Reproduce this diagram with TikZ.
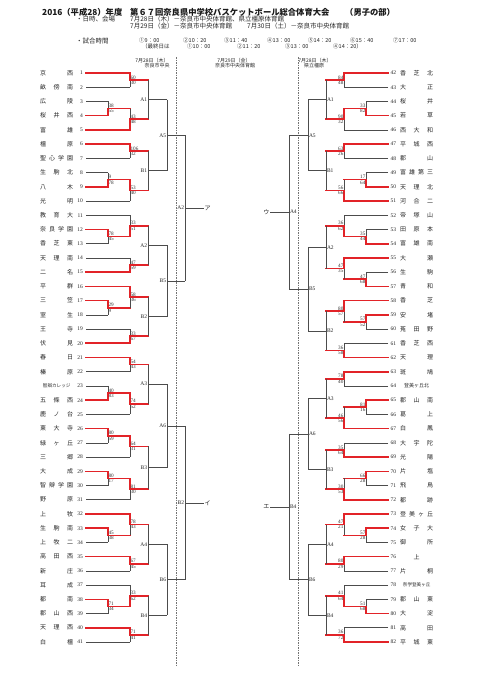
\documentclass[tikz,border=0pt]{standalone}
\usepackage{fontspec}
\setmainfont{Liberation Serif}
\newfontfamily\cjk{Noto Sans CJK JP}
\usetikzlibrary{calc}
\definecolor{bred}{RGB}{226,35,40}
\newif\ifleftside
\tikzset{
 lng/.style={draw=black!70, line width=0.65pt},
 lnr/.style={draw=bred, line width=1.6pt, line cap=rect},
 sc/.style={font=\fontsize{5.2}{5.5}\selectfont, inner sep=0.4pt, text=black!80},
 lab/.style={font=\fontsize{5.5}{6}\selectfont, inner sep=0.5pt, text=black!85},
 nm/.style={font=\cjk\fontsize{6}{6}\selectfont, inner sep=0pt, text=black!85},
 num/.style={font=\fontsize{5.5}{6}\selectfont, inner sep=0pt, text=black!85},
 ttl/.style={font=\cjk\bfseries\fontsize{8.3}{9}\selectfont, inner sep=0pt, anchor=west, text=black!90},
 hd/.style={font=\cjk\fontsize{6.5}{7}\selectfont, inner sep=0pt, anchor=west, text=black!85},
 tm/.style={font=\cjk\fontsize{5.5}{6}\selectfont, inner sep=0pt, anchor=west, text=black!85},
 ch/.style={font=\cjk\fontsize{5}{5}\selectfont, inner sep=0pt, text=black!85},
 fin/.style={font=\cjk\fontsize{6}{6}\selectfont, inner sep=0.5pt, text=black!85},
 dsh/.style={draw=black!55, line width=0.5pt, dash pattern=on 1.5pt off 1pt},
}
\newcommand\mat[9]{%
  \draw[ln#6] (#3) -- (#3 -| #2);
  \draw[ln#7] (#4) -- (#4 -| #2);
  \draw[lng] (#3 -| #2) -- (#4 -| #2);
  \coordinate (#1) at ($(#3 -| #2)!0.5!(#4 -| #2)$);
  \if#5t\draw[lnr] (#3 -| #2) -- (#1);\fi
  \if#5b\draw[lnr] (#4 -| #2) -- (#1);\fi
  \if#5n
    \ifleftside \node[lab,anchor=east] (#1-l) at ([xshift=-0.3pt]#1) {#8};
    \else \node[lab,anchor=west] (#1-l) at ([xshift=0.3pt]#1) {#8};\fi
  \else
    \ifleftside
      \node[sc,anchor=south west] (#1-t) at ([yshift=0.3pt]#1) {#8};
      \node[sc,anchor=north west] (#1-b) at ([yshift=-0.3pt]#1) {#9};
    \else
      \node[sc,anchor=south east] (#1-t) at ([yshift=0.3pt]#1) {#8};
      \node[sc,anchor=north east] (#1-b) at ([yshift=-0.3pt]#1) {#9};
    \fi
  \fi
}
\newcommand\lt[2]{\node[nm,anchor=west] (nL#1) at ($(L#1)+(-46,0)$) {\hbox to 33pt{#2}};
  \node[num,anchor=east] (kL#1) at ($(L#1)+(-3,0)$) {#1};}
\newcommand\rt[2]{\node[nm,anchor=west] (nR#1) at ($(R#1)+(12,0)$) {\hbox to 33pt{#2}};
  \node[num,anchor=west] (kR#1) at ($(R#1)+(2.5,0)$) {#1};}
\begin{document}
\begin{tikzpicture}[x=1pt,y=-1pt]
\fill[white] (0,0) rectangle (481,680);
\useasboundingbox (0,0) rectangle (481,680);
% header
\node[ttl] (t1) at (42,12.5) {2016（平成28）年度};
\node[ttl] (t2) at (130,12.5) {第６７回奈良県中学校バスケットボール総合体育大会};
\node[ttl] (t3) at (345,12.5) {（男子の部）};
\node[hd] (h1) at (76,19.5) {・日時、会場};
\node[hd] (h2) at (130,19.5) {7月28日（木）－奈良市中央体育館、県立橿原体育館};
\node[hd] (h3) at (130,26.5) {7月29日（金）－奈良市中央体育館};
\node[hd] (h4) at (247,26.5) {7月30日（土）－奈良市中央体育館};
\node[hd] (h5) at (76,41) {・試合時間};
\node[tm] (s1) at (139,40.5) {①9：00};
\node[tm] (s2) at (183,40.5) {②10：20};
\node[tm] (s3) at (224,40.5) {③11：40};
\node[tm] (s4) at (267,40.5) {④13：00};
\node[tm] (s5) at (308,40.5) {⑤14：20};
\node[tm] (s6) at (350,40.5) {⑥15：40};
\node[tm] (s7) at (393,40.5) {⑦17：00};
\node[tm] (f0) at (142,46.5) {（最終日は};
\node[tm] (f1) at (187,46.5) {①10：00};
\node[tm] (f2) at (237,46.5) {②11：20};
\node[tm] (f3) at (285,46.5) {③13：00};
\node[tm] (f4) at (333,46.5) {④14：20）};
\node[ch] (d1a) at (152,61) {7月28日（木）};
\node[ch] (d1b) at (157,66) {奈良市中央};
\node[ch] (d2a) at (234,61) {7月29日（金）};
\node[ch] (d2b) at (235,66) {奈良市中央体育館};
\node[ch] (d3a) at (315,61) {7月28日（木）};
\node[ch] (d3b) at (314,66) {県立橿原};
% dashed day separators
\coordinate (dl1) at (176,57); \coordinate (dl2) at (176,666);
\coordinate (dr1) at (298,57); \coordinate (dr2) at (298,666);
\draw[dsh] (dl1) -- (dl2);
\draw[dsh] (dr1) -- (dr2);
% team anchor points and columns
\foreach \i in {1,...,41} {\coordinate (L\i) at (86,{73+(\i-1)*14.225});}
\foreach \j in {42,...,82} {\coordinate (R\j) at (388,{73+(\j-42)*14.225});}
\coordinate (LC1) at (108,0); \coordinate (LC2) at (130,0); \coordinate (LC3) at (148,0);
\coordinate (LC4) at (167,0); \coordinate (LC5) at (185,0);
\coordinate (RC1) at (366,0); \coordinate (RC2) at (344,0); \coordinate (RC3) at (326,0);
\coordinate (RC4) at (308,0); \coordinate (RC5) at (289,0);
% left teams
\lt{1}{京\hfill 西}
\lt{2}{畝\hfill 傍\hfill 南}
\lt{3}{広\hfill 陵}
\lt{4}{桜\hfill 井\hfill 西}
\lt{5}{富\hfill 雄}
\lt{6}{橿\hfill 原}
\lt{7}{聖\hfill 心\hfill 学\hfill 園}
\lt{8}{生\hfill 駒\hfill 北}
\lt{9}{八\hfill 木}
\lt{10}{光\hfill 明}
\lt{11}{教\hfill 育\hfill 大}
\lt{12}{奈\hfill 良\hfill 学\hfill 園}
\lt{13}{香\hfill 芝\hfill 東}
\lt{14}{天\hfill 理\hfill 南}
\lt{15}{二\hfill 名}
\lt{16}{平\hfill 群}
\lt{17}{三\hfill 笠}
\lt{18}{室\hfill 生}
\lt{19}{王\hfill 寺}
\lt{20}{伏\hfill 見}
\lt{21}{春\hfill 日}
\lt{22}{榛\hfill 原}
\lt{23}{\fontsize{4.6}{5}\selectfont\hfil 智辯カレッジ\hfil}
\lt{24}{五\hfill 條\hfill 西}
\lt{25}{鹿\hfill ノ\hfill 台}
\lt{26}{東\hfill 大\hfill 寺}
\lt{27}{緑\hfill ヶ\hfill 丘}
\lt{28}{三\hfill 郷}
\lt{29}{大\hfill 成}
\lt{30}{智\hfill 辯\hfill 学\hfill 園}
\lt{31}{野\hfill 原}
\lt{32}{上\hfill 牧}
\lt{33}{生\hfill 駒\hfill 南}
\lt{34}{上\hfill 牧\hfill 二}
\lt{35}{高\hfill 田\hfill 西}
\lt{36}{新\hfill 庄}
\lt{37}{耳\hfill 成}
\lt{38}{都\hfill 南}
\lt{39}{郡\hfill 山\hfill 西}
\lt{40}{天\hfill 理\hfill 西}
\lt{41}{白\hfill 橿}
% right teams
\rt{42}{香\hfill 芝\hfill 北}
\rt{43}{大\hfill 正}
\rt{44}{桜\hfill 井}
\rt{45}{若\hfill 草}
\rt{46}{西\hfill 大\hfill 和}
\rt{47}{平\hfill 城\hfill 西}
\rt{48}{郡\hfill 山}
\rt{49}{富\hfill 雄\hfill 第\hfill 三}
\rt{50}{天\hfill 理\hfill 北}
\rt{51}{河\hfill 合\hfill 二}
\rt{52}{帝\hfill 塚\hfill 山}
\rt{53}{田\hfill 原\hfill 本}
\rt{54}{富\hfill 雄\hfill 南}
\rt{55}{大\hfill 瀬}
\rt{56}{生\hfill 駒}
\rt{57}{青\hfill 和}
\rt{58}{香\hfill 芝}
\rt{59}{安\hfill 堵}
\rt{60}{菟\hfill 田\hfill 野}
\rt{61}{香\hfill 芝\hfill 西}
\rt{62}{天\hfill 理}
\rt{63}{斑\hfill 鳩}
\rt{64}{\fontsize{5}{5}\selectfont\hfil 登美ヶ丘北\hfil}
\rt{65}{郡\hfill 山\hfill 南}
\rt{66}{葛\hfill 上}
\rt{67}{白\hfill 鳳}
\rt{68}{大\hfill 宇\hfill 陀}
\rt{69}{光\hfill 陽}
\rt{70}{片\hfill 塩}
\rt{71}{飛\hfill 鳥}
\rt{72}{都\hfill 跡}
\rt{73}{登\hfill 美\hfill ヶ\hfill 丘}
\rt{74}{女\hfill 子\hfill 大}
\rt{75}{御\hfill 所}
\rt{76}{\hfil 上\hfil}
\rt{77}{片\hfill 桐}
\rt{78}{\fontsize{4.6}{5}\selectfont\hfil 奈学登美ヶ丘\hfil}
\rt{79}{郡\hfill 山\hfill 東}
\rt{80}{大\hfill 淀}
\rt{81}{高\hfill 田}
\rt{82}{平\hfill 城\hfill 東}
% left bracket
\leftsidetrue
\mat{p1}{LC2}{L1}{L2}{t}{r}{g}{60}{30}
\mat{p2}{LC1}{L3}{L4}{b}{g}{r}{38}{55}
\mat{p3}{LC2}{p2}{L5}{b}{r}{r}{43}{48}
\mat{LA1}{LC3}{p1}{p3}{n}{r}{r}{A1}{}
\mat{p4}{LC2}{L6}{L7}{t}{r}{g}{106}{32}
\mat{p5}{LC1}{L8}{L9}{b}{g}{r}{9}{78}
\mat{p6}{LC2}{p5}{L10}{t}{r}{g}{53}{40}
\mat{LB1}{LC3}{p4}{p6}{n}{r}{r}{B1}{}
\mat{LA5}{LC4}{LA1}{LB1}{n}{g}{g}{A5}{}
\mat{p7}{LC1}{L12}{L13}{t}{r}{g}{78}{45}
\mat{p8}{LC2}{L11}{p7}{b}{g}{r}{33}{51}
\mat{p9}{LC2}{L14}{L15}{b}{g}{r}{47}{59}
\mat{LA2}{LC3}{p8}{p9}{n}{r}{r}{A2}{}
\mat{p10}{LC1}{L17}{L18}{t}{r}{g}{29}{9}
\mat{p11}{LC2}{L16}{p10}{t}{r}{r}{58}{36}
\mat{p12}{LC2}{L19}{L20}{b}{g}{r}{33}{67}
\mat{LB2}{LC3}{p11}{p12}{n}{r}{r}{B2}{}
\mat{LB5}{LC4}{LA2}{LB2}{n}{g}{g}{B5}{}
\mat{LF1}{LC5}{LA5}{LB5}{n}{g}{g}{A2}{}
\mat{p13}{LC2}{L21}{L22}{t}{r}{g}{54}{43}
\mat{p14}{LC1}{L23}{L24}{b}{g}{r}{40}{83}
\mat{p15}{LC2}{p14}{L25}{t}{r}{g}{74}{52}
\mat{LA3}{LC3}{p13}{p15}{n}{r}{r}{A3}{}
\mat{p16}{LC1}{L26}{L27}{t}{r}{g}{80}{59}
\mat{p17}{LC2}{p16}{L28}{t}{r}{g}{64}{31}
\mat{p18}{LC1}{L29}{L30}{t}{r}{g}{80}{17}
\mat{p19}{LC2}{p18}{L31}{t}{r}{g}{81}{30}
\mat{LB3}{LC3}{p17}{p19}{n}{r}{r}{B3}{}
\mat{LA6}{LC4}{LA3}{LB3}{n}{g}{g}{A6}{}
\mat{p20}{LC1}{L33}{L34}{t}{r}{g}{45}{38}
\mat{p21}{LC2}{L32}{p20}{t}{r}{r}{78}{43}
\mat{p22}{LC2}{L35}{L36}{t}{r}{g}{67}{45}
\mat{LA4}{LC3}{p21}{p22}{n}{r}{r}{A4}{}
\mat{p23}{LC1}{L38}{L39}{t}{r}{g}{71}{34}
\mat{p24}{LC2}{L37}{p23}{b}{g}{r}{33}{62}
\mat{p25}{LC2}{L40}{L41}{t}{r}{g}{71}{41}
\mat{LB4}{LC3}{p24}{p25}{n}{r}{r}{B4}{}
\mat{LB6}{LC4}{LA4}{LB4}{n}{g}{g}{B6}{}
\mat{LF2}{LC5}{LA6}{LB6}{n}{g}{g}{B2}{}
% right bracket
\leftsidefalse
\mat{q1}{RC2}{R42}{R43}{t}{r}{g}{84}{48}
\mat{q2}{RC1}{R44}{R45}{b}{g}{r}{33}{82}
\mat{q3}{RC2}{q2}{R46}{t}{r}{g}{90}{32}
\mat{RA1}{RC3}{q1}{q3}{n}{r}{r}{A1}{}
\mat{q4}{RC2}{R47}{R48}{t}{r}{g}{63}{26}
\mat{q5}{RC1}{R49}{R50}{b}{g}{r}{17}{64}
\mat{q6}{RC2}{q5}{R51}{b}{r}{r}{56}{66}
\mat{RB1}{RC3}{q4}{q6}{n}{r}{r}{B1}{}
\mat{RA5}{RC4}{RA1}{RB1}{n}{g}{g}{A5}{}
\mat{q7}{RC1}{R53}{R54}{b}{g}{r}{35}{44}
\mat{q8}{RC2}{R52}{q7}{b}{g}{r}{36}{62}
\mat{q9}{RC1}{R56}{R57}{b}{g}{r}{47}{68}
\mat{q10}{RC2}{R55}{q9}{t}{r}{r}{47}{35}
\mat{RA2}{RC3}{q8}{q10}{n}{r}{r}{A2}{}
\mat{q11}{RC1}{R59}{R60}{t}{r}{g}{57}{52}
\mat{q12}{RC2}{R58}{q11}{t}{r}{r}{80}{57}
\mat{q13}{RC2}{R61}{R62}{b}{g}{r}{36}{58}
\mat{RB2}{RC3}{q12}{q13}{n}{r}{r}{B2}{}
\mat{RB5}{RC4}{RA2}{RB2}{n}{g}{g}{B5}{}
\mat{RF1}{RC5}{RA5}{RB5}{n}{g}{g}{A4}{}
\mat{q14}{RC2}{R63}{R64}{t}{r}{g}{78}{40}
\mat{q15}{RC1}{R65}{R66}{t}{r}{g}{81}{16}
\mat{q16}{RC2}{q15}{R67}{b}{r}{r}{46}{56}
\mat{RA3}{RC3}{q14}{q16}{n}{r}{r}{A3}{}
\mat{q17}{RC2}{R68}{R69}{b}{g}{r}{35}{64}
\mat{q18}{RC1}{R70}{R71}{t}{r}{g}{66}{28}
\mat{q19}{RC2}{q18}{R72}{b}{r}{r}{30}{53}
\mat{RB3}{RC3}{q17}{q19}{n}{r}{r}{B3}{}
\mat{RA6}{RC4}{RA3}{RB3}{n}{g}{g}{A6}{}
\mat{q20}{RC1}{R74}{R75}{t}{r}{g}{57}{28}
\mat{q21}{RC2}{R73}{q20}{t}{r}{r}{47}{21}
\mat{q22}{RC2}{R76}{R77}{t}{r}{g}{80}{29}
\mat{RA4}{RC3}{q21}{q22}{n}{r}{r}{A4}{}
\mat{q23}{RC1}{R79}{R80}{b}{g}{r}{51}{68}
\mat{q24}{RC2}{R78}{q23}{b}{g}{r}{41}{64}
\mat{q25}{RC2}{R81}{R82}{b}{g}{r}{36}{72}
\mat{RB4}{RC3}{q24}{q25}{n}{r}{r}{B4}{}
\mat{RB6}{RC4}{RA4}{RB4}{n}{g}{g}{B6}{}
\mat{RF2}{RC5}{RA6}{RB6}{n}{g}{g}{B4}{}
% final exits
\node[fin,anchor=west] (ka) at ([xshift=19pt]LF1) {ア};
\node[fin,anchor=west] (ki) at ([xshift=19pt]LF2) {イ};
\node[fin,anchor=east] (ku) at ([xshift=-19pt]RF1) {ウ};
\node[fin,anchor=east] (ke) at ([xshift=-19pt]RF2) {エ};
\draw[lng] (LF1) -- (ka.west);
\draw[lng] (LF2) -- (ki.west);
\draw[lng] (RF1) -- (ku.east);
\draw[lng] (RF2) -- (ke.east);
\end{tikzpicture}
\end{document}
